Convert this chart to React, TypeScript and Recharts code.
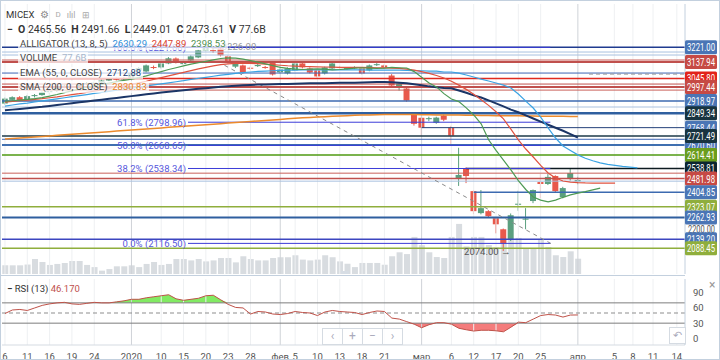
import React from "react";
import {
  ComposedChart,
  Bar,
  Line,
  Area,
  XAxis,
  YAxis,
  ReferenceLine,
  ReferenceDot,
} from "recharts";

// x axis: trading-day index, tick labels
const tickPos = [0, 3, 6, 9, 12, 17, 21, 24, 27, 30, 33, 37, 39, 42, 45, 48, 51, 56, 60, 63, 66, 69, 72, 77, 81.9, 84.4, 87.1, 90.3];
const tickLabels = ["6", "11", "16", "19", "24", "2020", "10", "15", "20", "23", "28", "фев", "5", "10", "13", "18", "21", "мар", "6", "12", "17", "20", "25", "апр", "5", "8", "11", "14"];
const monthLabels = ["2020", "фев", "мар", "апр"];

// candles
const opens = [2904, 2925, 2940, 2926, 2946, 2952, 2968, 2975, 2996, 3004, 2994, 3015, 3020, 3022, 3034, 3044, 3040, 3050, 3090, 3085, 3110, 3108, 3130, 3158, 3128, 3147, 3164, 3204, 3205, 3215, 3170, 3112, 3119, 3106, 3115, 3110, 3136, 3080, 3074, 3091, 3130, 3102, 3091, 3074, 3102, 3110, 3100, 3104, 3102, 3091, 3122, 3119, 3062, 3000, 2989, 2847, 2824, 2816, 2796, 2836, 2768, 2485, 2536, 2411, 2287, 2298, 2258, 2196, 2139, 2334, 2250, 2355, 2462, 2451, 2496, 2377, 2479, 2465.56];
const highs = [2938, 2945, 2946, 2952, 2958, 2972, 2980, 3000, 3010, 3008, 3018, 3025, 3028, 3038, 3048, 3050, 3052, 3082, 3110, 3124, 3118, 3136, 3166, 3164, 3140, 3176, 3208, 3226, 3216, 3220, 3176, 3134, 3124, 3112, 3128, 3116, 3140, 3102, 3108, 3136, 3136, 3108, 3096, 3112, 3136, 3116, 3110, 3114, 3108, 3124, 3132, 3124, 3070, 3022, 2995, 2855, 2830, 2830, 2830, 2842, 2779, 2655, 2545, 2415, 2417, 2304, 2264, 2200, 2285, 2413, 2315, 2420, 2507, 2507, 2500, 2435, 2536, 2491.66];
const lows = [2898, 2920, 2918, 2922, 2938, 2948, 2960, 2970, 2990, 2988, 2990, 3008, 3014, 3018, 3030, 3034, 3036, 3046, 3082, 3080, 3098, 3102, 3126, 3130, 3122, 3142, 3160, 3198, 3190, 3170, 3130, 3104, 3072, 3094, 3110, 3100, 3062, 3074, 3068, 3086, 3102, 3074, 3050, 3068, 3098, 3100, 3094, 3098, 3068, 3086, 3116, 3100, 3000, 2977, 2915, 2780, 2722, 2805, 2790, 2805, 2677, 2440, 2456, 2281, 2280, 2262, 2173, 2074, 2130, 2300, 2196, 2343, 2371, 2445, 2405, 2370, 2470, 2449.01];
const closes = [2932, 2940, 2922, 2946, 2952, 2968, 2975, 2996, 3004, 2994, 3015, 3020, 3022, 3034, 3044, 3040, 3048, 3076, 3104, 3119, 3106, 3130, 3159, 3136, 3132, 3170, 3204, 3218, 3200, 3176, 3136, 3128, 3079, 3102, 3122, 3106, 3068, 3096, 3102, 3130, 3108, 3079, 3057, 3108, 3130, 3106, 3104, 3108, 3074, 3119, 3126, 3108, 3006, 3017, 2921, 2790, 2768, 2822, 2825, 2813, 2723, 2502, 2496, 2298, 2315, 2270, 2224, 2117, 2275, 2340, 2256, 2417, 2451, 2491, 2411, 2428, 2513, 2473.61];
const volumes = [44, 44, 44, 48, 76, 61, 46, 51, 56, 66, 66, 46, 35, 17, 25, 39, 39, 44, 35, 51, 61, 46, 51, 76, 76, 69, 76, 64, 69, 81, 81, 59, 90, 76, 69, 69, 81, 85, 85, 95, 73, 69, 73, 95, 85, 64, 52, 35, 56, 56, 56, 47, 90, 110, 101, 188, 146, 110, 86, 81, 188, 254, 140, 188, 188, 147, 135, 172, 172, 183, 132, 132, 177, 137, 95, 86, 115, 77.6];

// indicators
const jaw = [2890, 2896, 2902, 2907, 2913, 2919, 2925, 2931, 2937, 2943, 2949, 2955, 2961, 2967, 2973, 2979, 2985, 2991, 2997, 3003, 3009, 3015, 3021, 3027, 3033, 3040, 3046, 3052, 3058, 3064, 3069, 3074, 3078, 3082, 3085, 3087, 3089, 3091, 3092, 3093, 3094, 3094, 3094, 3094, 3094, 3094, 3094, 3094, 3094, 3093, 3093, 3093, 3092, 3092, 3091, 3090, 3089, 3087, 3087, 3082, 3082, 3076, 3065, 3054, 3042, 3031, 3020, 3008, 2992, 2958, 2918, 2879, 2828, 2767, 2710, 2665, 2640, 2615, 2596, 2582, 2570, 2562, 2556, 2550, 2546, 2542];
const teeth = [2912, 2916, 2920, 2924, 2928, 2932, 2937, 2942, 2948, 2954, 2960, 2967, 2974, 2981, 2989, 2997, 3005, 3013, 3021, 3030, 3040, 3050, 3060, 3070, 3080, 3090, 3100, 3108, 3116, 3123, 3128, 3131, 3132, 3131, 3129, 3126, 3123, 3120, 3117, 3115, 3113, 3112, 3111, 3110, 3109, 3108, 3108, 3108, 3108, 3107, 3106, 3105, 3104, 3102, 3098, 3092, 3084, 3074, 3062, 3048, 3030, 3008, 2984, 2956, 2926, 2894, 2858, 2818, 2760, 2700, 2648, 2603, 2556, 2513, 2485, 2468, 2462, 2459, 2457, 2456, 2456, 2456, 2456];
const lips = [2918, 2920, 2924, 2928, 2932, 2938, 2946, 2955, 2966, 2976, 2986, 2996, 3004, 3012, 3020, 3028, 3035, 3042, 3050, 3060, 3072, 3084, 3096, 3106, 3116, 3126, 3134, 3142, 3150, 3158, 3162, 3160, 3154, 3146, 3138, 3128, 3118, 3108, 3102, 3098, 3096, 3098, 3100, 3098, 3094, 3096, 3100, 3104, 3106, 3104, 3102, 3104, 3108, 3106, 3104, 3084, 3052, 3020, 2998, 2960, 2930, 2915, 2880, 2840, 2790, 2700, 2640, 2585, 2530, 2470, 2420, 2378, 2360, 2350, 2360, 2376, 2390, 2400, 2408, 2418, 2428];
const ema55 = [2866, 2870, 2874, 2878, 2882, 2886, 2891, 2896, 2901, 2906, 2911, 2916, 2921, 2926, 2931, 2936, 2941, 2946, 2951, 2956, 2961, 2966, 2971, 2975, 2979, 2983, 2987, 2991, 2995, 2999, 3002, 3005, 3007, 3009, 3011, 3012, 3013, 3014, 3015, 3016, 3017, 3018, 3018, 3019, 3020, 3021, 3022, 3022, 3023, 3024, 3025, 3025, 3024, 3022, 3019, 3013, 3007, 3001, 2996, 2992, 2990, 2978, 2965, 2950, 2938, 2922, 2905, 2888, 2870, 2855, 2838, 2820, 2802, 2785, 2768, 2751, 2732, 2712.88];
const sma200 = [2704, 2707, 2710, 2713, 2716, 2719, 2722, 2725, 2728, 2731, 2734, 2737, 2740, 2743, 2746, 2749, 2752, 2755, 2758, 2761, 2764, 2767, 2770, 2773, 2776, 2779, 2782, 2785, 2788, 2791, 2794, 2797, 2800, 2803, 2806, 2809, 2812, 2815, 2818, 2821, 2824, 2826, 2828, 2830, 2832, 2834, 2836, 2838, 2839, 2840, 2841, 2842, 2842, 2842, 2842, 2842, 2841, 2841, 2840, 2840, 2839, 2839, 2838, 2838, 2837, 2837, 2836, 2836, 2835, 2835, 2834, 2834, 2833, 2833, 2832, 2832, 2831, 2830.83];
const rsi = [49, 56, 57, 55, 60, 65, 68, 70, 71, 68, 67, 69, 71, 70, 70, 72, 74, 77, 77, 80, 82, 84, 86, 78, 75, 77, 79, 84, 85, 76, 67, 61, 60, 48, 53, 52, 48, 47, 49, 53, 51, 50, 45, 52, 55, 53, 52, 51, 47, 51, 54, 53, 40, 38, 33, 28, 21, 27, 31, 31, 28, 20, 17, 14.5, 16, 16, 15, 13, 22, 32, 31, 38, 45, 47, 46, 42, 46, 46.17];

// horizontal levels drawn across the price pane
const levelPrices = [3221, 3194.5, 3177.6, 3149.4, 3137.94, 3076, 3045.8, 3014, 2997.44, 2980, 2918.97, 2884.7, 2849.34, 2768.44, 2721.49, 2703, 2670.6, 2614.41, 2538.81, 2512, 2481.98, 2467, 2404.85, 2323.07, 2262.93, 2139.2, 2088.45];
const levelStart = [null, null, null, null, null, null, null, null, null, null, null, null, null, 56, null, null, null, null, 62, null, null, null, 63, null, null, null, null];
const levelStyle = [
  ["#1f3b8f", 1.5], ["#a9c1e0", 1], ["#a9c1e0", 1], ["#c9605a", 1], ["#c0504d", 2], ["#3c64b4", 1], ["#e02a20", 1.5], ["#c0504d", 1], ["#c0504d", 2], ["#c9605a", 1], ["#3c6ab0", 1.5], ["#a9c1e0", 1], ["#2f5f9f", 2.5], ["#23407a", 1], ["#1c3a48", 1.5], ["#3c64b4", 1], ["#3f6fb0", 2], ["#4f9a12", 1.5], ["#0d1a20", 1.5], ["#c9605a", 1], ["#c0504d", 1.5], ["#a9c1e0", 1], ["#3c6ab0", 1.5], ["#8fae3c", 1.5], ["#2f5f9f", 2], ["#3c46c0", 1.5], ["#8fae3c", 1.5],
] as const;

// fibonacci retracement
const fibPrices = [3221, 2798.96, 2668.65, 2538.34, 2116.5];
const fibNames = ["100.0%", "61.8%", "50.0%", "38.2%", "0.0%"];
const fibFrom = 24.6;
const fibTo = 73.3;

// right-hand price labels (later ones drawn on top)
const axisPrices = [3045.8, 3221, 3137.94, 2997.44, 2918.97, 2849.34, 2768.44, 2670.6, 2721.49, 2614.41, 2538.81, 2481.98, 2404.85, 2323.07, 2262.93, 2200, 2139.2, 2088.45];
const axisColors: Record<string, string> = {
  "3221": "#4a75b5", "3137.94": "#c64a44", "3045.8": "#e2231a", "2997.44": "#c64a44", "2918.97": "#4a75b5",
  "2849.34": "#183440", "2768.44": "#4a75b5", "2670.6": "#4a75b5", "2721.49": "#183440", "2614.41": "#6b9d1e",
  "2538.81": "#0c2530", "2481.98": "#c64a44", "2404.85": "#4a75b5", "2323.07": "#8fae3c", "2262.93": "#4a75b5",
  "2139.2": "#4a75b5", "2088.45": "#8fae3c",
};

const rows = Array.from({ length: 92 }, (_, i) => {
  const has = i < opens.length;
  return {
    i,
    o: has ? opens[i] : null,
    h: has ? highs[i] : null,
    l: has ? lows[i] : null,
    c: has ? closes[i] : null,
    hl: has ? [lows[i], highs[i]] : null,
    vol: has ? volumes[i] : null,
    jaw: jaw[i] ?? null,
    teeth: teeth[i] ?? null,
    lips: lips[i] ?? null,
    ema: ema55[i] ?? null,
    sma: sma200[i] ?? null,
    rsi: has ? rsi[i] : null,
    rsiHi: has ? [70, Math.max(70, rsi[i])] : null,
    rsiLo: has ? [Math.min(30, rsi[i]), 30] : null,
  };
});

const fmtTick = (v: number) => {
  const k = tickPos.indexOf(v);
  return k >= 0 ? tickLabels[k] : "";
};

const Candle = (props: any) => {
  const { x, y, width, height, payload } = props;
  if (!payload || payload.o == null) return null;
  const { o, h, l, c } = payload;
  const top = height < 0 ? y + height : y;
  const hh = Math.abs(height);
  const py = (v: number) => top + ((h - v) / (h - l || 1)) * hh;
  const cx = x + width / 2;
  const up = c >= o;
  const col = up ? "#5b9f7f" : "#e8594c";
  const bTop = py(Math.max(o, c));
  const bBot = py(Math.min(o, c));
  return (
    <g>
      <line x1={cx} x2={cx} y1={top} y2={top + hh} stroke={col} strokeWidth={1} />
      <rect x={cx - 3} y={bTop} width={6} height={Math.max(1, bBot - bTop)} fill={col} />
    </g>
  );
};

const PriceTick = (props: any) => {
  const { x, y, payload } = props;
  const v = payload.value;
  const col = axisColors[String(v)];
  const x0 = x - 1;
  if (!col) {
    return (
      <text x={x0 + 3} y={y + 4} fontSize={10} fill="#555" textLength={27} lengthAdjust="spacingAndGlyphs">
        {v.toFixed(2)}
      </text>
    );
  }
  return (
    <g>
      <rect x={x0} y={y - 7} width={32} height={14} rx={1.5} fill={col} />
      <text
        x={x0 + 2}
        y={y + 4}
        fontSize={11}
        fill="#fff"
        textLength={28}
        lengthAdjust="spacingAndGlyphs"
      >
        {v.toFixed(2)}
      </text>
    </g>
  );
};

const gridLines = (xa: string, ya: string) =>
  tickPos.map((p, k) => (
    <ReferenceLine
      key={"g" + k}
      x={p}
      xAxisId={xa}
      yAxisId={ya}
      stroke={monthLabels.includes(tickLabels[k]) ? "#cfd3d8" : "#eef0f2"}
      strokeWidth={1}
    />
  ));

const row: React.CSSProperties = {
  position: "absolute",
  left: 17,
  fontSize: 9.5,
  color: "#444",
  background: "rgba(255,255,255,0.72)",
  padding: "0 2px",
  whiteSpace: "nowrap",
  lineHeight: "12px",
};

const App: React.FC = () => {
  return (
    <div
      style={{
        position: "absolute",
        left: 0,
        top: 0,
        width: 720,
        height: 360,
        background: "#fff",
        overflow: "hidden",
        fontFamily: "Roboto, sans-serif",
        boxSizing: "border-box",
        border: "1px solid #c3d0de",
      }}
    >
      <div style={{ position: "absolute", left: -1, top: -1 }}>
        <ComposedChart width={720} height={278} data={rows} margin={{ top: 4, right: 0, bottom: 4, left: 2 }}>
          <XAxis xAxisId="x" dataKey="i" type="number" domain={[-0.4, 91.4]} hide allowDataOverflow />
          <XAxis xAxisId="xv" dataKey="i" type="number" domain={[-0.4, 91.4]} hide allowDataOverflow />
          <YAxis yAxisId="v" domain={[0, 1369]} hide allowDataOverflow />
          <YAxis
            yAxisId="p"
            orientation="right"
            width={35}
            domain={[1944, 3465]}
            allowDataOverflow
            ticks={axisPrices}
            interval={0}
            tick={<PriceTick />}
            tickLine={false}
            tickSize={0}
            tickMargin={1}
            axisLine={{ stroke: "#c3d0de" }}
          />
          {gridLines("x", "p")}
          <Bar xAxisId="xv" yAxisId="v" dataKey="vol" barSize={6} fill="#d8dce0" isAnimationActive={false} />
          {levelPrices.map((p, k) =>
            levelStart[k] == null ? (
              <ReferenceLine key={"l" + k} xAxisId="x" yAxisId="p" y={p} stroke={levelStyle[k][0]} strokeWidth={levelStyle[k][1]} />
            ) : (
              <ReferenceLine
                key={"l" + k}
                xAxisId="x"
                yAxisId="p"
                segment={[{ x: levelStart[k] as number, y: p }, { x: 91.4, y: p }]}
                stroke={levelStyle[k][0]}
                strokeWidth={levelStyle[k][1]}
              />
            )
          )}
          {fibPrices.map((p, k) => (
            <ReferenceLine
              key={"f" + k}
              xAxisId="x"
              yAxisId="p"
              segment={[{ x: fibFrom, y: p }, { x: fibTo, y: p }]}
              stroke="#3c3cd8"
              strokeWidth={1}
              label={{ value: `${fibNames[k]} (${p.toFixed(2)})`, position: "left", fill: "#5656dc", fontSize: 9.5, offset: 2 }}
            />
          ))}
          <ReferenceLine
            xAxisId="x"
            yAxisId="p"
            segment={[{ x: 29.5, y: 3120 }, { x: 73.5, y: 2113 }]}
            stroke="#8a8a8a"
            strokeDasharray="4 4"
          />
          <ReferenceLine
            xAxisId="x"
            yAxisId="p"
            segment={[{ x: 78.5, y: 3070 }, { x: 91.4, y: 3070 }]}
            stroke="#9a9a9a"
            strokeDasharray="4 3"
          />
          <Bar xAxisId="x" yAxisId="p" dataKey="hl" barSize={7} shape={<Candle />} isAnimationActive={false} />
          <Line xAxisId="x" yAxisId="p" dataKey="sma" stroke="#ec8a2c" strokeWidth={1.5} dot={false} isAnimationActive={false} />
          <Line xAxisId="x" yAxisId="p" dataKey="ema" stroke="#1b3566" strokeWidth={2} dot={false} isAnimationActive={false} />
          <Line xAxisId="x" yAxisId="p" dataKey="jaw" stroke="#3aa3e3" strokeWidth={1.2} dot={false} isAnimationActive={false} />
          <Line xAxisId="x" yAxisId="p" dataKey="teeth" stroke="#e0523f" strokeWidth={1.2} dot={false} isAnimationActive={false} />
          <Line xAxisId="x" yAxisId="p" dataKey="lips" stroke="#4e9a55" strokeWidth={1.2} dot={false} isAnimationActive={false} />
          <ReferenceDot
            xAxisId="x"
            yAxisId="p"
            x={27}
            y={3226}
            r={0}
            shape={(p: any) => (
              <text x={p.cx + 4} y={p.cy + 4} fontSize={9.5} fill="#9a9a9a">
                ← 3226.00
              </text>
            )}
          />
          <ReferenceDot
            xAxisId="x"
            yAxisId="p"
            x={67}
            y={2074}
            r={0}
            shape={(p: any) => (
              <text x={p.cx + 7} y={p.cy + 4} fontSize={9.5} fill="#555" textAnchor="end">
                2074.00 →
              </text>
            )}
          />
        </ComposedChart>
      </div>

      {/* pane separator */}
      <div style={{ position: "absolute", left: 0, top: 274, width: 684, height: 1, background: "#c3d0de" }} />
      <div style={{ position: "absolute", left: 340, top: 270, width: 8, height: 3, background: "#d7dde4" }} />

      <div style={{ position: "absolute", left: -1, top: 276 }}>
        <ComposedChart width={720} height={84} data={rows} margin={{ top: 2, right: 0, bottom: 0, left: 2 }}>
          <XAxis
            xAxisId="x"
            dataKey="i"
            type="number"
            domain={[-0.4, 91.4]}
            allowDataOverflow
            ticks={tickPos}
            interval={0}
            tickFormatter={fmtTick}
            tickLine={false}
            axisLine={{ stroke: "#d5dbe2" }}
            tick={{ fontSize: 9.5, fill: "#555" }}
            height={16}
            tickMargin={2}
          />
          <YAxis
            yAxisId="r"
            orientation="right"
            width={35}
            domain={[-13, 117]}
            ticks={[0, 30, 60, 90]}
            interval={0}
            tickLine={false}
            axisLine={{ stroke: "#c3d0de" }}
            tick={{ fontSize: 9.5, fill: "#555" }}
            tickMargin={2}
          />
          {gridLines("x", "r")}
          <ReferenceLine xAxisId="x" yAxisId="r" y={70} stroke="#7d7d7d" />
          <ReferenceLine xAxisId="x" yAxisId="r" y={30} stroke="#7d7d7d" />
          <ReferenceLine xAxisId="x" yAxisId="r" y={50} stroke="#8d8d8d" strokeDasharray="4 3" />
          <Area xAxisId="x" yAxisId="r" dataKey="rsiHi" stroke="none" fill="#82ea63" fillOpacity={1} isAnimationActive={false} />
          <Area xAxisId="x" yAxisId="r" dataKey="rsiLo" stroke="none" fill="#f47c7c" fillOpacity={1} isAnimationActive={false} />
          <Line xAxisId="x" yAxisId="r" dataKey="rsi" stroke="#bf5249" strokeWidth={1} dot={false} isAnimationActive={false} />
        </ComposedChart>
      </div>

      {/* legend */}
      <div style={{ position: "absolute", left: 5, top: 8, fontSize: 9.5, color: "#333", display: "flex", gap: 6, alignItems: "center", lineHeight: "12px" }}>
        <span>MICEX</span>
        <span style={{ color: "#888", fontSize: 10 }}>⚙</span>
        <span style={{ color: "#aaa", fontSize: 8 }}>D</span>
        <span style={{ color: "#aaa", fontSize: 9 }}>ılıl</span>
        <span style={{ color: "#aaa", fontSize: 9 }}>⊞</span>
      </div>
      <div style={{ position: "absolute", left: 6, top: 23, fontSize: 10.5, color: "#333", whiteSpace: "nowrap", lineHeight: "12px" }}>
        <b>−</b>&nbsp; <b>O</b> 2465.56&nbsp; <b>H</b> 2491.66&nbsp; <b>L</b> 2449.01&nbsp; <b>C</b> 2473.61&nbsp; <b>V</b> 77.6B
      </div>
      <div style={{ ...row, top: 37 }}>
        ALLIGATOR (13, 8, 5)&nbsp; <span style={{ color: "#2f8fd8" }}>2630.29</span>&nbsp; <span style={{ color: "#d9432f" }}>2447.89</span>&nbsp;{" "}
        <span style={{ color: "#4f8f4f" }}>2398.53</span>
      </div>
      <div style={{ ...row, top: 51 }}>
        VOLUME&nbsp; <span style={{ color: "#a9b7cc" }}>77.6B</span>
      </div>
      <div style={{ ...row, top: 66 }}>
        EMA (55, 0, CLOSE)&nbsp; <span style={{ color: "#1f3a6a" }}>2712.88</span>
      </div>
      <div style={{ ...row, top: 80 }}>
        SMA (200, 0, CLOSE)&nbsp; <span style={{ color: "#e8842a" }}>2830.83</span>
      </div>

      <div style={{ position: "absolute", left: 6, top: 282, fontSize: 9.5, color: "#333", whiteSpace: "nowrap", lineHeight: "12px" }}>
        <b>−</b> RSI (13) <span style={{ color: "#c0504d" }}>46.170</span>
      </div>
      <div style={{ position: "absolute", left: 708, top: 277, fontSize: 12, color: "#999" }}>×</div>

      {/* navigation controls */}
      <div
        style={{
          position: "absolute",
          left: 321,
          top: 327,
          display: "flex",
          border: "1px solid #d5dbe2",
          background: "rgba(255,255,255,0.85)",
          fontSize: 12,
          color: "#aab",
        }}
      >
        {["‹", "+", "−", "›"].map((s, k) => (
          <div key={k} style={{ width: 19, height: 15, textAlign: "center", lineHeight: "15px", borderLeft: k ? "1px solid #d5dbe2" : "none" }}>
            {s}
          </div>
        ))}
      </div>
      <div
        style={{
          position: "absolute",
          left: 668,
          top: 326,
          width: 15,
          height: 15,
          border: "1px solid #d5dbe2",
          fontSize: 11,
          color: "#aab",
          textAlign: "center",
          lineHeight: "15px",
          background: "#fff",
        }}
      >
        ↶
      </div>
    </div>
  );
};

export default App;
